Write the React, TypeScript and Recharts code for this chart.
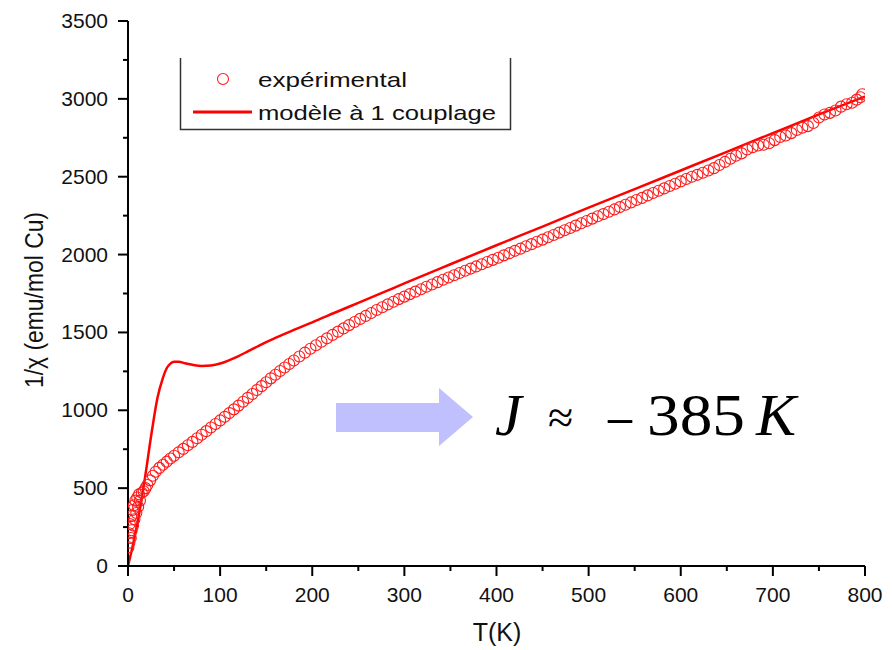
import React from 'react';
import { ComposedChart, Line, Scatter, XAxis, YAxis } from 'recharts';

// ---- data ----
const xTicks = [0, 50, 100, 150, 200, 250, 300, 350, 400, 450, 500, 550, 600, 650, 700, 750, 800];
const yTicks = [0, 250, 500, 750, 1000, 1250, 1500, 1750, 2000, 2250, 2500, 2750, 3000, 3250, 3500];

const modelT = [0, 4, 11, 18, 26, 32, 38, 42, 46, 50, 55, 62, 70, 80, 90, 100, 110, 120, 130, 140, 150, 160, 170, 180, 190, 200, 225, 250, 275, 300, 350, 400, 450, 500, 550, 600, 650, 700, 750, 800];
const modelV = [0, 100, 300, 550, 870, 1080, 1210, 1270, 1300, 1312, 1312, 1302, 1292, 1285, 1288, 1300, 1322, 1348, 1378, 1408, 1438, 1465, 1491, 1516, 1541, 1565, 1628, 1690, 1752, 1815, 1938, 2060, 2180, 2302, 2420, 2540, 2660, 2780, 2900, 3015];

const expT = [0.5, 1, 1.5, 2, 3, 3.5, 4, 5, 5.5, 6.5, 7, 8, 9, 10, 11, 12, 13, 15, 17, 19, 21, 24, 27, 30, 34, 38, 42, 46, 50, 55, 60, 65, 70, 75, 80, 85, 90, 95, 100, 105, 110, 115, 120, 125, 130, 135, 140, 145, 150, 155, 160, 165, 170, 175, 180, 186, 192, 198, 204, 210, 216, 222, 228, 234, 240, 246, 252, 258, 264, 270, 276, 282, 288, 294, 300, 306, 312, 318, 324, 330, 336, 342, 348, 354, 360, 366, 372, 378, 384, 390, 396, 402, 408, 414, 420, 426, 432, 438, 444, 450, 456, 462, 468, 474, 480, 486, 492, 498, 504, 510, 516, 522, 528, 534, 540, 546, 552, 558, 564, 570, 576, 582, 588, 594, 600, 606, 612, 618, 624, 630, 636, 642, 648, 654, 660, 666, 672, 678, 684, 690, 696, 702, 708, 714, 720, 726, 732, 738, 744, 750, 756, 762, 768, 774, 780, 786, 791, 795, 797];
const expV = [120, 210, 150, 270, 180, 320, 230, 360, 260, 390, 300, 420, 340, 440, 380, 460, 420, 470, 480, 500, 520, 550, 580, 605, 630, 650, 670, 690, 708, 730, 752, 775, 797, 820, 843, 866, 889, 912, 935, 958, 982, 1006, 1030, 1055, 1080, 1105, 1130, 1155, 1180, 1205, 1228, 1252, 1275, 1297, 1320, 1345, 1370, 1395, 1418, 1440, 1462, 1484, 1505, 1526, 1547, 1567, 1587, 1606, 1625, 1644, 1662, 1680, 1697, 1714, 1730, 1746, 1762, 1777, 1793, 1808, 1823, 1838, 1853, 1867, 1882, 1896, 1910, 1924, 1938, 1952, 1966, 1980, 1995, 2009, 2024, 2038, 2053, 2067, 2082, 2096, 2111, 2126, 2141, 2156, 2171, 2186, 2201, 2216, 2231, 2246, 2260, 2275, 2290, 2305, 2320, 2335, 2350, 2364, 2380, 2395, 2410, 2425, 2440, 2455, 2470, 2485, 2500, 2512, 2525, 2540, 2555, 2575, 2595, 2615, 2635, 2650, 2675, 2690, 2700, 2705, 2715, 2735, 2755, 2765, 2780, 2800, 2815, 2825, 2845, 2880, 2900, 2910, 2925, 2950, 2965, 2975, 2995, 3010, 3030];

const legendLabels = ['expérimental', 'modèle à 1 couplage'];
const xTitle = 'T(K)';
const yTitle = '1/χ (emu/mol Cu)';

const modelData = modelT.map((t, i) => ({ T: t, v: modelV[i] }));
const expData = expT.map((t, i) => ({ T: t, v: expV[i] }));

const SANS = '"Liberation Sans", Arial, sans-serif';
const SERIF = '"Liberation Serif", "Times New Roman", serif';
const RED = '#ff0000';

const XTick = (props: any) => {
  const { x, y, payload } = props;
  const v = payload.value;
  const major = v % 100 === 0;
  return (
    <g>
      <line x1={x} x2={x} y1={y} y2={y + (major ? 10 : 5)} stroke="#000" strokeWidth={2} />
      {major && (
        <text x={x} y={y + 36} textAnchor="middle" fontSize={21} fontFamily={SANS} fill="#111">
          {v}
        </text>
      )}
    </g>
  );
};

const YTick = (props: any) => {
  const { x, y, payload } = props;
  const v = payload.value;
  const major = v % 500 === 0;
  return (
    <g>
      <line x1={x} x2={x - (major ? 10 : 5)} y1={y} y2={y} stroke="#000" strokeWidth={2} />
      {major && (
        <text x={x - 20} y={y + 7} textAnchor="end" fontSize={21} fontFamily={SANS} fill="#111">
          {v}
        </text>
      )}
    </g>
  );
};

const OpenCircle = (props: any) => {
  const { cx, cy } = props;
  if (cx == null || cy == null) return null;
  return <circle cx={cx} cy={cy} r={5.5} fill="none" stroke="#ff1a1a" strokeWidth={1.1} />;
};

export default function App() {
  return (
    <div style={{ position: 'absolute', left: 0, top: 0, width: 893, height: 650, background: '#fff' }}>
      <ComposedChart width={893} height={650} margin={{ top: 21, right: 28, bottom: 14, left: 0 }}>
        <XAxis
          type="number"
          dataKey="T"
          domain={[0, 800]}
          ticks={xTicks}
          interval={0}
          tick={<XTick />}
          tickLine={false}
          tickSize={0}
          tickMargin={0}
          height={70}
          axisLine={{ stroke: '#000', strokeWidth: 2 }}
          allowDataOverflow
        />
        <YAxis
          type="number"
          dataKey="v"
          domain={[0, 3500]}
          ticks={yTicks}
          interval={0}
          tick={<YTick />}
          tickLine={false}
          tickSize={0}
          tickMargin={0}
          width={128}
          axisLine={{ stroke: '#000', strokeWidth: 2 }}
          allowDataOverflow
        />
        <Scatter data={expData} dataKey="v" shape={<OpenCircle />} isAnimationActive={false} />
        <Line
          data={modelData}
          dataKey="v"
          type="monotone"
          stroke={RED}
          strokeWidth={2.5}
          dot={false}
          activeDot={false}
          isAnimationActive={false}
        />
      </ComposedChart>
      <svg width={893} height={650} style={{ position: 'absolute', left: 0, top: 0, pointerEvents: 'none' }}>
        {/* axis titles */}
        <text x={497} y={641} textAnchor="middle" fontSize={25} fontFamily={SANS} fill="#111">
          {xTitle}
        </text>
        <text
          transform="translate(43,300) rotate(-90)"
          textAnchor="middle"
          fontSize={25}
          fontFamily={SANS}
          fill="#111"
          textLength={176}
          lengthAdjust="spacingAndGlyphs"
        >
          {yTitle}
        </text>
        {/* legend */}
        <polyline points="180.5,58 180.5,129.5 510.5,129.5 510.5,58" fill="none" stroke="#333" strokeWidth={1.5} />
        <circle cx={223} cy={79} r={5.5} fill="none" stroke="#ff1a1a" strokeWidth={1.1} />
        <text x={258} y={87} fontSize={21} fontFamily={SANS} fill="#111" textLength={149} lengthAdjust="spacingAndGlyphs">
          {legendLabels[0]}
        </text>
        <line x1={193} x2={252} y1={112} y2={112} stroke={RED} strokeWidth={3} />
        <text x={258} y={120} fontSize={21} fontFamily={SANS} fill="#111" textLength={238} lengthAdjust="spacingAndGlyphs">
          {legendLabels[1]}
        </text>
        {/* annotation arrow */}
        <polygon points="336,403 439,403 439,388 473,417 439,446 439,432 336,432" fill="#c0c0ff" />
        <text x={495} y={435} fontSize={60} fontFamily={SERIF} fontStyle="italic" fill="#000">J</text>
        <text x={548} y={433} fontSize={46} fontFamily={SERIF} fill="#000">≈</text>
        <text x={608} y={435} fontSize={60} fontFamily={SERIF} fill="#000" textLength={24} lengthAdjust="spacingAndGlyphs">–</text>
        <text x={647} y={435} fontSize={60} fontFamily={SERIF} fill="#000" textLength={98} lengthAdjust="spacingAndGlyphs">385</text>
        <text x={756} y={435} fontSize={60} fontFamily={SERIF} fontStyle="italic" fill="#000">K</text>
      </svg>
    </div>
  );
}
